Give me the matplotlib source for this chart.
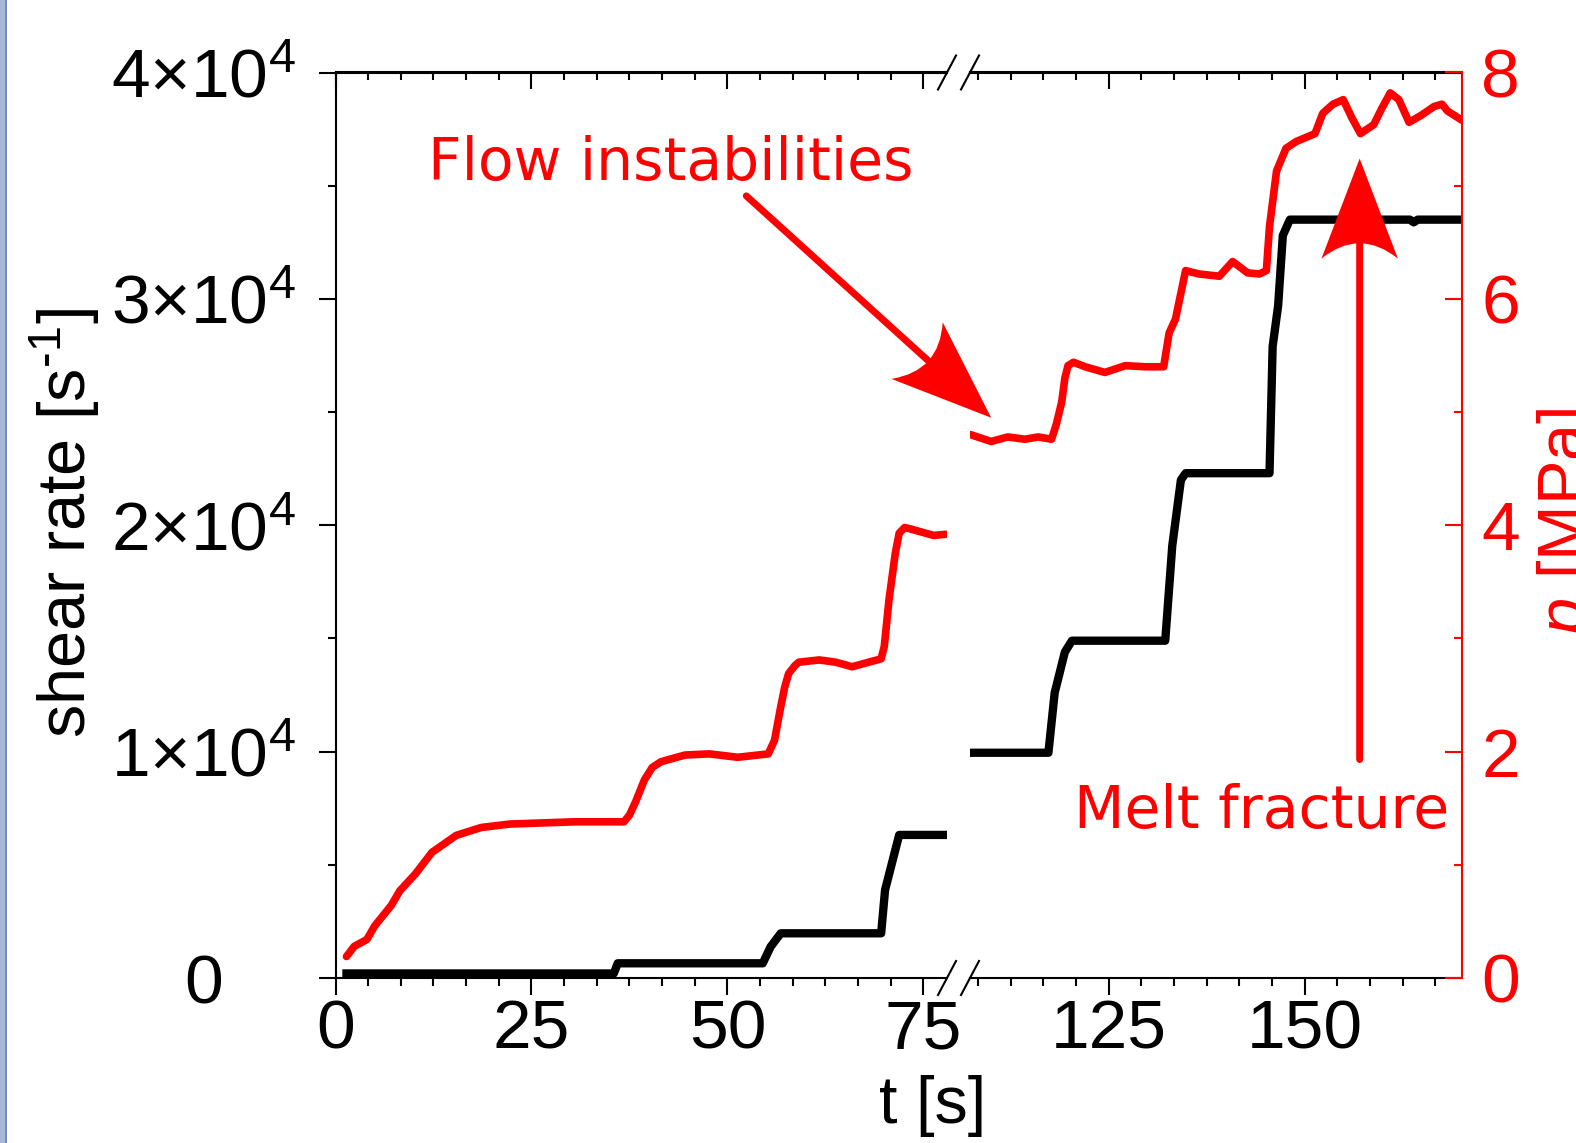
import numpy as np
import matplotlib
matplotlib.use("Agg")
import matplotlib.pyplot as plt
from matplotlib.ticker import MultipleLocator, AutoMinorLocator, FixedLocator
from matplotlib.transforms import Affine2D, ScaledTranslation
from matplotlib.path import Path
from matplotlib.patches import PathPatch, ConnectionPatch, Rectangle

plt.rcParams["font.family"] = ["Liberation Sans", "DejaVu Sans"]
plt.rcParams["mathtext.fontset"] = "custom"
plt.rcParams["mathtext.rm"] = "Liberation Sans"
plt.rcParams["mathtext.it"] = "Liberation Sans:italic"
plt.rcParams["mathtext.default"] = "regular"

RED = "#ff0000"

# ---------------------------------------------------------------------------
# data (t in s, shear rate in 1/s, p in MPa)
# ---------------------------------------------------------------------------
t_rate_left = [1.4, 35.5, 36.0, 54.5, 55.5, 56.8, 69.6, 70.1, 71.9, 77.8]
rate_left = [200, 200, 650, 650, 1380, 1975, 1975, 3890, 6320, 6320]

t_p_left = [1.4, 2.4, 4.0, 5.0, 7.1, 8.2, 10.2, 12.3, 15.4, 18.6, 22.2, 30.5,
            36.8, 37.5, 38.3, 39.4, 40.4, 41.5, 42.5, 44.6, 47.7, 51.3, 55.2,
            56.0, 56.8, 57.3, 57.8, 58.6, 59.1, 61.7, 63.8, 65.9, 69.6, 70.0,
            70.6, 71.4, 71.9, 72.6, 73.2, 76.3, 77.8]
p_left = [0.19, 0.28, 0.34, 0.46, 0.64, 0.77, 0.92, 1.11, 1.26, 1.33, 1.36, 1.38,
          1.38, 1.44, 1.56, 1.75, 1.86, 1.91, 1.93, 1.97, 1.98, 1.95, 1.98,
          2.10, 2.40, 2.57, 2.69, 2.76, 2.79, 2.81, 2.79, 2.75, 2.82, 2.93,
          3.34, 3.75, 3.93, 3.98, 3.97, 3.91, 3.92]

t_rate_right = [107.4, 117.3, 118.1, 119.4, 120.3, 132.2, 133.1, 134.2, 134.8,
                145.5, 145.9, 146.6, 147.2, 148.1, 163.4, 163.9, 164.4, 170.0]
rate_right = [9950, 9950, 12600, 14400, 14900, 14900, 19100, 22000, 22300,
              22300, 27900, 29700, 32800, 33500, 33500, 33380, 33500, 33500]

t_p_right = [107.4, 110.0, 112.1, 114.3, 116.0, 117.7, 118.3, 119.0, 119.4,
             119.8, 120.5, 122.0, 124.5, 127.1, 129.7, 132.0, 132.7, 133.5,
             134.8, 136.5, 139.1, 140.8, 142.7, 144.2, 145.1, 145.5, 146.4,
             147.6, 148.9, 151.3, 152.3, 153.6, 154.9, 156.0, 157.1, 158.8,
             159.8, 160.9, 162.0, 163.3, 164.8, 166.5, 167.5, 168.2, 170.0]
p_right = [4.80, 4.74, 4.78, 4.76, 4.78, 4.76, 4.89, 5.09, 5.30,
           5.41, 5.44, 5.40, 5.35, 5.41, 5.40, 5.40, 5.70, 5.82,
           6.25, 6.22, 6.20, 6.33, 6.23, 6.22, 6.25, 6.64, 7.13,
           7.33, 7.39, 7.46, 7.64, 7.72, 7.76, 7.60, 7.46, 7.54,
           7.68, 7.82, 7.76, 7.56, 7.62, 7.70, 7.72, 7.66, 7.58]

rate_ticks = [0, 10000, 20000, 30000, 40000]
rate_labels = ["0", r"$1{\times}10^{4}$", r"$2{\times}10^{4}$",
               r"$3{\times}10^{4}$", r"$4{\times}10^{4}$"]
p_ticks = [0, 2, 4, 6, 8]

# annotations: (t, p)
flow_text = (42.8, 7.20)
flow_tail = (52.4, 6.91)      # on left segment
flow_tip = (110.0, 4.95)      # on right segment
melt_text = (144.5, 1.47)
melt_tail = (157.0, 1.93)
melt_tip = (157.0, 7.24)

# ---------------------------------------------------------------------------
# layout (pixels of the 1576x1143 canvas)
# ---------------------------------------------------------------------------
W, H = 1576, 1143
fig = plt.figure(figsize=(W / 100, H / 100), dpi=100)

y_bot, y_top = 978, 72.5
xl0, xl1 = 335.5, 947
xr0, xr1 = 970, 1461.6

def box(x0, x1):
    return [x0 / W, 1 - y_bot / H, (x1 - x0) / W, (y_bot - y_top) / H]

axL = fig.add_axes(box(xl0, xl1))
axR = fig.add_axes(box(xr0, xr1))
pL = axL.twinx()
pR = axR.twinx()

axL.set_xlim(0, 78)
axR.set_xlim(107.3, 170)
for a in (axL, axR):
    a.set_ylim(0, 40000)
for a in (pL, pR):
    a.set_ylim(0, 8)

TICK_FS = 50
MAJ, MIN, TW = 12, 5.8, 1.5

for a in (axL, axR):
    a.xaxis.set_major_locator(MultipleLocator(25))
    a.xaxis.set_minor_locator(AutoMinorLocator(6))
    a.tick_params(axis="x", which="both", direction="out", width=TW,
                  labelsize=TICK_FS, pad=3, top=False)
    a.tick_params(axis="x", which="major", length=MAJ)
    a.tick_params(axis="x", which="minor", length=MIN)
    for s in a.spines.values():
        s.set_linewidth(1.5)
    a.spines["right"].set_visible(False)
    # top ticks point inwards
    sec = a.secondary_xaxis("top")
    sec.xaxis.set_major_locator(MultipleLocator(25))
    sec.xaxis.set_minor_locator(AutoMinorLocator(6))
    sec.tick_params(axis="x", which="both", direction="in", width=TW,
                    labeltop=False)
    sec.tick_params(axis="x", which="major", length=MAJ)
    sec.tick_params(axis="x", which="minor", length=MIN)
    sec.spines["top"].set_linewidth(1.5)

axR.spines["left"].set_visible(False)
axR.tick_params(axis="y", which="both", left=False, labelleft=False)

# left shear-rate axis
axL.yaxis.set_major_locator(FixedLocator(rate_ticks))
axL.yaxis.set_minor_locator(AutoMinorLocator(2))
axL.set_yticklabels(rate_labels)
axL.tick_params(axis="y", which="both", direction="out", width=TW,
                labelsize=TICK_FS, pad=83)
axL.tick_params(axis="y", which="major", length=MAJ)
axL.tick_params(axis="y", which="minor", length=MIN)
plt.setp(axL.get_yticklabels(), ha="center")

# hidden pressure scale on left segment
for s in pL.spines.values():
    s.set_visible(False)
pL.tick_params(axis="y", which="both", right=False, labelright=False)

# red pressure axis on the right
for k in ("left", "top", "bottom"):
    pR.spines[k].set_visible(False)
pR.spines["right"].set_color(RED)
pR.spines["right"].set_linewidth(1.5)
pR.yaxis.set_major_locator(FixedLocator(p_ticks))
pR.yaxis.set_minor_locator(AutoMinorLocator(2))
pR.tick_params(axis="y", which="both", direction="in", color=RED,
               labelcolor=RED, width=TW, labelsize=TICK_FS, pad=14)
pR.tick_params(axis="y", which="major", length=MAJ)
pR.tick_params(axis="y", which="minor", length=MIN)

# curves
axL.plot(t_rate_left, rate_left, color="black", lw=6, solid_joinstyle="round")
axR.plot(t_rate_right, rate_right, color="black", lw=6, solid_joinstyle="round")
pL.plot(t_p_left, p_left, color=RED, lw=5.5, solid_joinstyle="round",
        solid_capstyle="round")
pR.plot(t_p_right, p_right, color=RED, lw=5.5, solid_joinstyle="round",
        solid_capstyle="round")

# break marks "//"
def slash(ax, xfrac):
    bb = ax.get_position()
    w_px, h_px = bb.width * W, bb.height * H
    dx, dy = 9 / w_px, 17 / h_px
    for yfrac in (0, 1):
        ax.plot([xfrac - dx, xfrac + dx], [yfrac - dy, yfrac + dy],
                transform=ax.transAxes, color="black", lw=1.5, clip_on=False)

slash(axL, 1.0)
slash(axR, 0.0)

# arrows with concave heads (sizes in points)
HEAD_L, HEAD_W, HEAD_C = 72, 55, 11

def head(ax, tip, theta):
    L, hw, c = HEAD_L, HEAD_W / 2, HEAD_C
    verts = [(0, 0), (-L, hw), (-L + 2 * c, 0), (-L, -hw), (0, 0)]
    codes = [Path.MOVETO, Path.LINETO, Path.CURVE3, Path.CURVE3, Path.CLOSEPOLY]
    tr = (Affine2D().rotate(theta).scale(1 / 72.) + fig.dpi_scale_trans
          + ScaledTranslation(tip[0], tip[1], ax.transData))
    ax.add_patch(PathPatch(Path(verts, codes), transform=tr, color=RED,
                           lw=0, clip_on=False, zorder=5))

def arrow(ax_tail, tail, ax_tip, tip):
    d0 = np.array(ax_tail.transData.transform(tail))
    d1 = np.array(ax_tip.transData.transform(tip))
    v = d1 - d0
    theta = np.arctan2(v[1], v[0])
    end = d1 - v / np.hypot(*v) * (HEAD_L * 0.6 * fig.dpi / 72)
    end_data = ax_tip.transData.inverted().transform(end)
    con = ConnectionPatch(xyA=tail, coordsA=ax_tail.transData,
                          xyB=end_data, coordsB=ax_tip.transData,
                          color=RED, lw=5, zorder=5)
    fig.add_artist(con)
    head(ax_tip, tip, theta)

arrow(pL, flow_tail, pR, flow_tip)
arrow(pR, melt_tail, pR, melt_tip)

pL.text(*flow_text, "Flow instabilities", color=RED, fontsize=42,
        family="DejaVu Sans", ha="center", va="center")
pR.text(*melt_text, "Melt fracture", color=RED, fontsize=42,
        family="DejaVu Sans", ha="center", va="center")

# axis titles
fig.text(65 / W, 1 - 523 / H, "shear rate [s$^{\u2010 1}$]", rotation=90,
         ha="center", va="center", fontsize=48)
fig.text(933 / W, 1 - 1106 / H, "t [s]", ha="center", va="center", fontsize=48)
fig.text(1568 / W, 1 - 522 / H, r"$\mathit{p}$ [MPa]", rotation=90,
         ha="center", va="center", fontsize=48, color=RED)

# window border strip on the left edge
fig.patches.append(Rectangle((0, 0), 5 / W, 1, transform=fig.transFigure,
                             facecolor="#a7b8d4", edgecolor="none"))
fig.patches.append(Rectangle((5 / W, 0), 1.5 / W, 1, transform=fig.transFigure,
                             facecolor="#6f8cbb", edgecolor="none"))

fig.savefig("out.png", dpi=100)
